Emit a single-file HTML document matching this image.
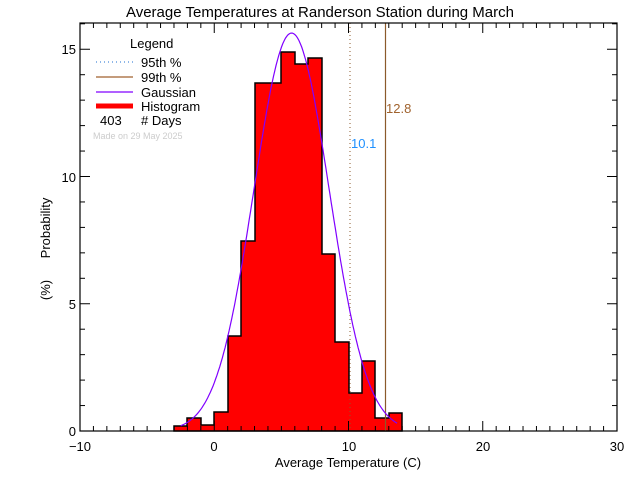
<!DOCTYPE html>
<html><head><style>body{margin:0;background:#fff}svg{display:block}text{font-family:"Liberation Sans",sans-serif}</style></head><body>
<svg width="640" height="480" viewBox="0 0 640 480" xmlns="http://www.w3.org/2000/svg">
<rect width="640" height="480" fill="#fff"/>
<text x="320" y="17" font-size="15" text-anchor="middle">Average Temperatures at Randerson Station during March</text>
<g id="bars">
<path d="M174,431 L174,426 L187,426 L187,418 L201,418 L201,425 L214,425 L214,412 L228,412 L228,336 L241,336 L241,241 L255,241 L255,83 L281,83 L281,52 L295,52 L295,64 L308,64 L308,58 L322,58 L322,254 L335,254 L335,342 L349,342 L349,393 L362,393 L362,361 L375,361 L375,418 L389,418 L389,413 L402,413 L402,431 Z" fill="#f00" stroke="#000" stroke-width="1.5"/>
</g>
<line x1="350" y1="23" x2="350" y2="431" stroke="#8b5a2b" stroke-width="1" stroke-dasharray="1,3"/>
<line x1="385.5" y1="23" x2="385.5" y2="431" stroke="#8b5a2b" stroke-width="1.2"/>
<text x="351" y="148" font-size="13" fill="#1e90ff">10.1</text>
<text x="386" y="113" font-size="13" fill="#a0622d">12.8</text>
<polyline id="g" fill="none" stroke="#8000ff" stroke-width="1.2" points=""/>
<rect x="80" y="23" width="537" height="408" fill="none" stroke="#000" stroke-width="1.2"/>
<g id="ticks" stroke="#000" stroke-width="1"></g>
<g font-size="13" text-anchor="middle">
<text x="80" y="451">−10</text><text x="214" y="451">0</text><text x="349" y="451">10</text><text x="483" y="451">20</text><text x="617" y="451">30</text>
</g>
<g font-size="13" text-anchor="end">
<text x="76" y="436">0</text><text x="76" y="309">5</text><text x="76" y="182">10</text><text x="76" y="54">15</text>
</g>
<text x="348" y="467" font-size="13" text-anchor="middle">Average Temperature (C)</text>
<text transform="translate(50,228) rotate(-90)" font-size="13" text-anchor="middle">Probability</text>
<text transform="translate(50,290) rotate(-90)" font-size="13" text-anchor="middle">(%)</text>
<text x="130" y="48" font-size="13">Legend</text>
<line x1="96" y1="62" x2="133" y2="62" stroke="#1e6fd0" stroke-dasharray="1,3"/>
<line x1="96" y1="77" x2="133" y2="77" stroke="#a0622d" stroke-width="1.2"/>
<line x1="96" y1="92" x2="133" y2="92" stroke="#8000ff" stroke-width="1.2"/>
<line x1="96" y1="106" x2="133" y2="106" stroke="#f00" stroke-width="5"/>
<g font-size="13"><text x="141" y="67">95th %</text><text x="141" y="82">99th %</text><text x="141" y="97">Gaussian</text><text x="141" y="111">Histogram</text><text x="100" y="125">403</text><text x="141" y="125"># Days</text></g>
<text x="93" y="139" font-size="9" fill="#ccc">Made on 29 May 2025</text>
</svg>
<script>
var p=[];for(var t=-2.5;t<=13.6;t+=0.1){var x=214.3+t*13.44,y=431-398*Math.exp(-Math.pow(t-5.75,2)/(2*2.8*2.8));p.push(x.toFixed(1)+","+y.toFixed(1));}
document.getElementById("g").setAttribute("points",p.join(" "));
var g=document.getElementById("ticks"),s="";
for(var v=-10;v<=30;v++){var x=80+(v+10)*13.425,l=(v%10==0)?10:5;s+='<line x1="'+x+'" y1="431" x2="'+x+'" y2="'+(431-l)+'"/><line x1="'+x+'" y1="23" x2="'+x+'" y2="'+(23+l)+'"/>';}
for(var v=0;v<=16;v++){var y=431-v*25.45,l=(v%5==0)?10:5;s+='<line x1="80" y1="'+y+'" x2="'+(80+l)+'" y2="'+y+'"/><line x1="617" y1="'+y+'" x2="'+(617-l)+'" y2="'+y+'"/>';}
g.innerHTML=s;
</script>
</body></html>
